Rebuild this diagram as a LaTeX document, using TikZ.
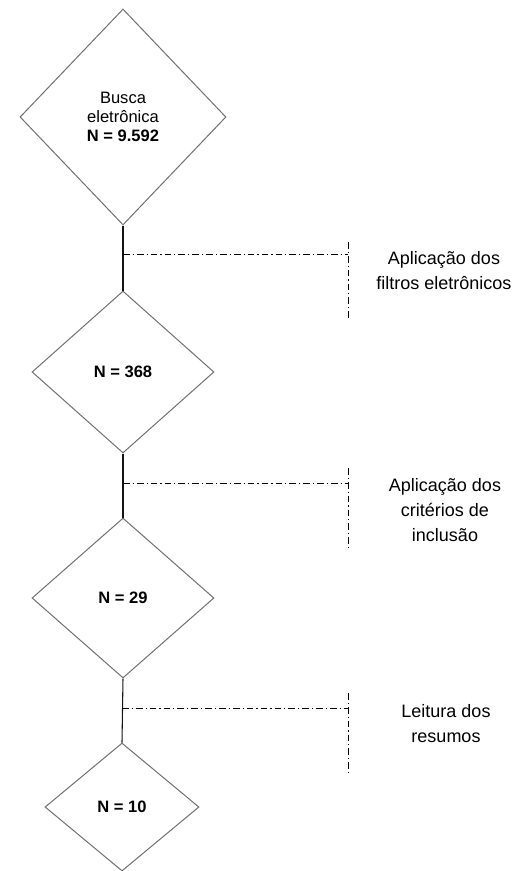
\documentclass[tikz,border=0pt]{standalone}
\usepackage{fontspec}
\setmainfont{Liberation Sans}
\usetikzlibrary{shapes.geometric}

\begin{document}
\begin{tikzpicture}[x=0.75pt,y=0.75pt,yscale=-1,xscale=1,
  losango/.style={diamond, draw={rgb, 255:red, 112; green, 112; blue, 112}, line width=0.75, inner sep=0pt, align=center, font=\fontsize{12.4}{14.3}\selectfont},
  ligacao/.style={draw={rgb, 255:red, 20; green, 20; blue, 20}, line width=0.8},
  tracoponto/.style={draw=black, line width=0.75, dash pattern=on 5pt off 2.25pt on 0.9pt off 2.25pt},
  rotulo/.style={align=center, inner sep=0pt, font=\fontsize{13.5}{18.75}\selectfont}]
\useasboundingbox (0,0) rectangle (518,871);

%Shape: Diamond [id:dp5183370214409217] 
\node [losango, minimum width=154.5pt, minimum height=162pt] (busca) at (123,117) {Busca\\eletrônica\\\textbf{N = 9.592}};
%Shape: Diamond [id:dp2740196385521073] 
\node [losango, minimum width=136.5pt, minimum height=121.5pt] (filtrados) at (123,372) {\textbf{N = 368}};
%Shape: Diamond [id:dp8816032147705529] 
\node [losango, minimum width=136.5pt, minimum height=120pt] (incluidos) at (123,598) {\textbf{N = 29}};
%Shape: Diamond [id:dp6639420871253146] 
\node [losango, minimum width=115.5pt, minimum height=96pt] (resumos) at (122,807) {\textbf{N = 10}};

%Straight Lines [id:da3927710484416261] 
\draw [ligacao] (busca.south) -- (filtrados.north);
\draw [ligacao] (filtrados.south) -- (incluidos.north);
\draw [ligacao] (incluidos.south) -- (resumos.north);

%Straight Lines [id:da7102956643815922] 
\coordinate (ramo1) at (123,254);
\coordinate (ramo2) at (123,483);
\coordinate (ramo3) at (122,708);
\coordinate (corte1a) at (348,242); \coordinate (corte1b) at (348,320);
\coordinate (corte2a) at (348,468); \coordinate (corte2b) at (348,550);
\coordinate (corte3a) at (348,693); \coordinate (corte3b) at (348,773);
\draw [tracoponto] (ramo1) -- (ramo1 -| corte1a);
\draw [tracoponto] (corte1a) -- (corte1b);
\draw [tracoponto] (ramo2) -- (ramo2 -| corte2a);
\draw [tracoponto] (corte2a) -- (corte2b);
\draw [tracoponto] (ramo3) -- (ramo3 -| corte3a);
\draw [tracoponto] (corte3a) -- (corte3b);

% Text Node
\node [rotulo] (etapa1) at (444,271) {Aplicação dos\\filtros eletrônicos};
% Text Node
\node [rotulo] (etapa2) at (445,510) {Aplicação dos\\critérios de\\inclusão};
% Text Node
\node [rotulo] (etapa3) at (446,724) {Leitura dos\\resumos};

\end{tikzpicture}
\end{document}
